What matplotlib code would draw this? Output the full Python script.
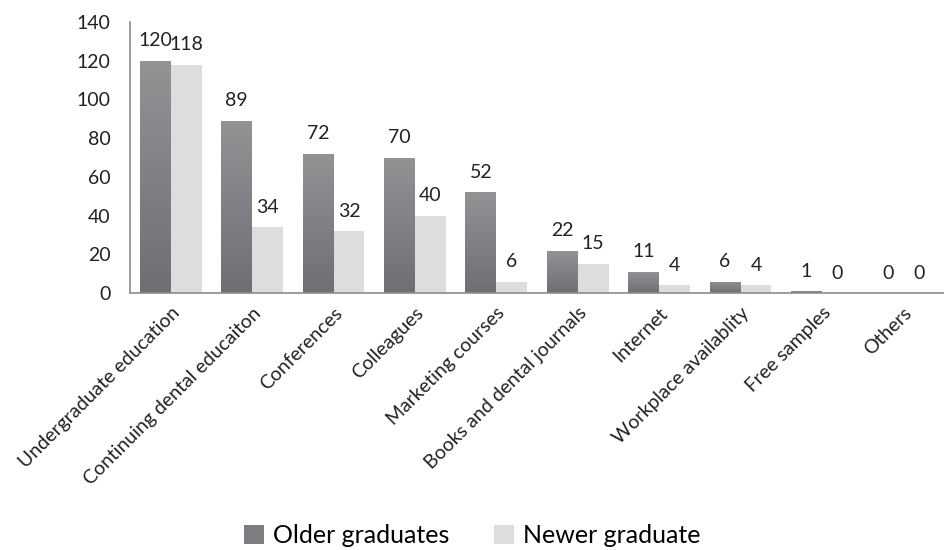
import matplotlib
matplotlib.use("Agg")
import matplotlib.pyplot as plt
import numpy as np

categories = ["Undergraduate education", "Continuing dental educaiton", "Conferences",
              "Colleagues", "Marketing courses", "Books and dental journals", "Internet",
              "Workplace availablity", "Free samples", "Others"]
older = [120, 89, 72, 70, 52, 22, 11, 6, 1, 0]
newer = [118, 34, 32, 40, 6, 15, 4, 4, 0, 0]

plt.rcParams['font.family'] = ['Lato', 'DejaVu Sans']

fig = plt.figure(figsize=(9.44, 5.5), dpi=100)
ax = fig.add_axes([0.1377, 0.467, 0.8623, 0.493])

x = np.arange(len(categories))
w = 0.38
dark = "#7d7e81"
light = "#dcdddf"

b1 = ax.bar(x - w / 2, older, w, color=dark, label="Older graduates", zorder=2)
b2 = ax.bar(x + w / 2, newer, w, color=light, label="Newer graduate", zorder=2)

# vertical gradient on the dark bars
cmap = matplotlib.colors.LinearSegmentedColormap.from_list("g", ["#6e6f73", "#939396"])
grad = np.linspace(0, 1, 256).reshape(-1, 1)
for rect in b1:
    h = rect.get_height()
    if h <= 0:
        continue
    x0 = rect.get_x()
    im = ax.imshow(grad, cmap=cmap, origin="lower", aspect="auto",
                   extent=[x0, x0 + rect.get_width(), 0, h], zorder=2.5)
    im.set_clip_path(rect)

for rect, v in list(zip(b1, older)) + list(zip(b2, newer)):
    ax.text(rect.get_x() + rect.get_width() / 2, v + 6, str(v),
            ha="center", va="bottom", fontsize=14, color="#222222")

ax.set_xlim(-0.5, len(categories) - 0.5)
ax.set_ylim(0, 140)
ax.set_yticks(range(0, 141, 20))
ax.set_xticks(x)
ax.set_xticklabels(categories, rotation=45, ha="right", rotation_mode="anchor")
ax.tick_params(axis="both", length=0, labelsize=14, colors="#222222")
ax.tick_params(axis="y", pad=14)
ax.tick_params(axis="x", pad=8)

for s in ["top", "right"]:
    ax.spines[s].set_visible(False)
ax.spines["left"].set_color("#8c8c8c")
ax.spines["bottom"].set_color("#8c8c8c")
ax.spines["left"].set_linewidth(1.2)
ax.spines["bottom"].set_linewidth(1.2)

fig.legend(handles=[b1, b2], loc="center", bbox_to_anchor=(0.5, 0.026), ncol=2,
           frameon=False, fontsize=18, handlelength=0.8, handleheight=0.8,
           handletextpad=0.35, columnspacing=1.8)

fig.savefig("out.png", dpi=100)
